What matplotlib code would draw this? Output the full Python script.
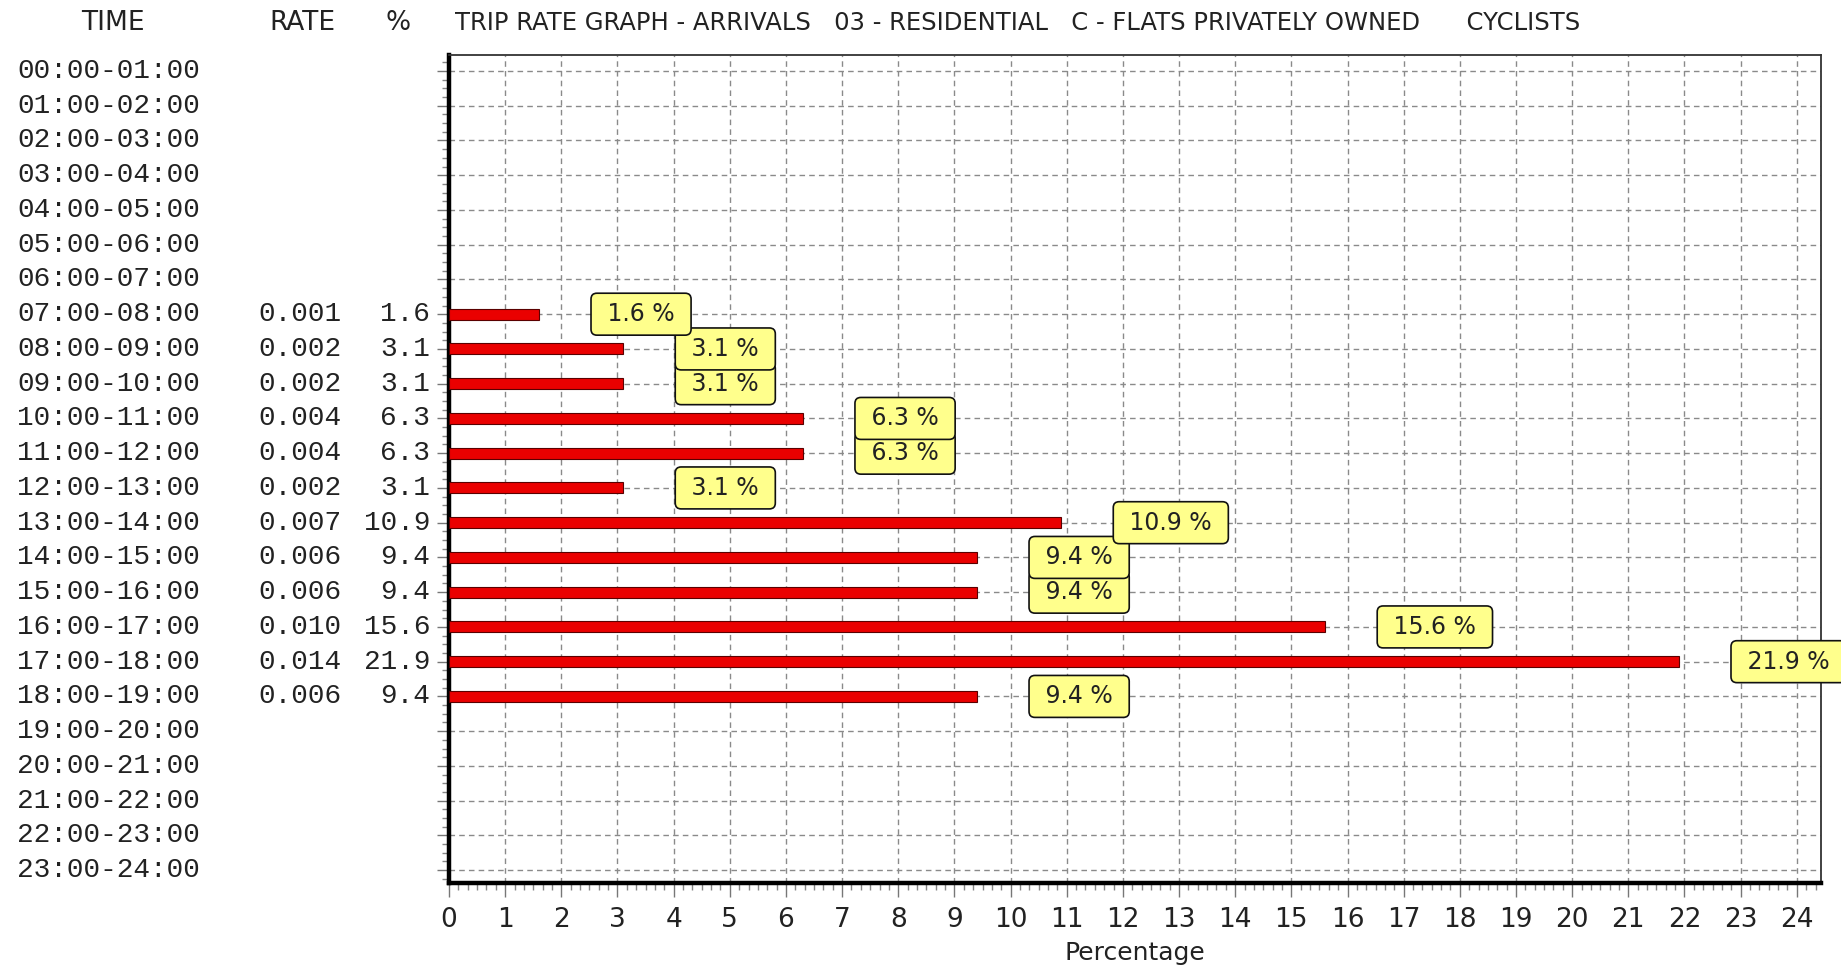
import matplotlib
matplotlib.use("Agg")
import matplotlib.pyplot as plt
import matplotlib.transforms as mtransforms
from matplotlib.ticker import MultipleLocator
import numpy as np

# trip rate table - arrivals, cyclists (flats privately owned)
times = ["00:00-01:00", "01:00-02:00", "02:00-03:00", "03:00-04:00",
         "04:00-05:00", "05:00-06:00", "06:00-07:00", "07:00-08:00",
         "08:00-09:00", "09:00-10:00", "10:00-11:00", "11:00-12:00",
         "12:00-13:00", "13:00-14:00", "14:00-15:00", "15:00-16:00",
         "16:00-17:00", "17:00-18:00", "18:00-19:00", "19:00-20:00",
         "20:00-21:00", "21:00-22:00", "22:00-23:00", "23:00-24:00"]
rate = [np.nan]*7 + [0.001, 0.002, 0.002, 0.004, 0.004, 0.002,
                     0.007, 0.006, 0.006, 0.010, 0.014, 0.006] + [np.nan]*5
pct = [np.nan]*7 + [1.6, 3.1, 3.1, 6.3, 6.3, 3.1,
                    10.9, 9.4, 9.4, 15.6, 21.9, 9.4] + [np.nan]*5
title = "TRIP RATE GRAPH - ARRIVALS   03 - RESIDENTIAL   C - FLATS PRIVATELY OWNED      CYCLISTS"

plt.rcParams['font.family'] = ['Liberation Sans Narrow', 'DejaVu Sans']
txtcol = '#222222'

fig = plt.figure(figsize=(18.41, 9.66), dpi=100)
ax = fig.add_axes([0.2439, 0.0859, 0.7452, 0.8572])
ax.set_xlim(0, 24.43)
ax.set_ylim(23.37, -0.46)

rows = np.arange(len(times))
pct_a = np.array(pct)
has = ~np.isnan(pct_a)
ax.barh(rows[has], pct_a[has], height=0.32, color='#ea0000',
        edgecolor='#5a0000', linewidth=0.8, zorder=3)

# grid + ticks
ax.set_xticks(range(25))
ax.set_yticks(rows)
ax.xaxis.set_minor_locator(MultipleLocator(1/6))
ax.yaxis.set_minor_locator(MultipleLocator(0.25))
ax.set_axisbelow(True)
ax.grid(True, which='major', color='#8a8a8a', linestyle=(0, (4, 3)), linewidth=1.0)
ax.tick_params(axis='x', which='major', length=10, width=1, color='#777777',
               pad=7, labelsize=19, labelcolor=txtcol)
ax.tick_params(axis='x', which='minor', length=5, width=1, color='#888888')
ax.tick_params(axis='y', which='major', length=9, width=1, color='#777777', labelleft=False)
ax.tick_params(axis='y', which='minor', length=5, width=1, color='#888888')
for s in ['left', 'bottom']:
    ax.spines[s].set_linewidth(3.2)
    ax.spines[s].set_color('black')
for s in ['top', 'right']:
    ax.spines[s].set_linewidth(1.3)
    ax.spines[s].set_color('#333333')
ax.set_xlabel('Percentage', fontsize=18, color=txtcol, labelpad=6)

# left hand table
mono = ['Liberation Mono', 'DejaVu Sans Mono']
trans = mtransforms.blended_transform_factory(fig.transFigure, ax.transData)
for i in rows:
    ax.text(17/1841, i, times[i], transform=trans, ha='left', va='center',
            family=mono, fontsize=20, color=txtcol, clip_on=False)
    if has[i]:
        ax.text(342/1841, i, "%.3f" % rate[i], transform=trans, ha='right',
                va='center', family=mono, fontsize=20, color=txtcol, clip_on=False)
        ax.text(430/1841, i, "%.1f" % pct[i], transform=trans, ha='right',
                va='center', family=mono, fontsize=20, color=txtcol, clip_on=False)
        ax.annotate(" %.1f %% " % pct[i], xy=(pct[i], i), xytext=(44, 0),
                    textcoords='offset points', ha='left', va='center',
                    fontsize=17, family='DejaVu Sans', color=txtcol,
                    bbox=dict(boxstyle='round,pad=0.38,rounding_size=0.25',
                              fc='#ffff8c', ec='#111111', lw=1.2),
                    annotation_clip=False, zorder=40 - i)

# header
hy = 1 - 23/966
fig.text(113/1841, hy, 'TIME', ha='center', va='center', fontsize=19, color=txtcol)
fig.text(302/1841, hy, 'RATE', ha='center', va='center', fontsize=19, color=txtcol)
fig.text(398/1841, hy, '%', ha='center', va='center', fontsize=19, color=txtcol)
t = fig.text(455/1841, hy, title, ha='left', va='center', fontsize=19, color=txtcol)
fig.canvas.draw()
w = t.get_window_extent().width
t.set_fontsize(19 * 1125 / w)

fig.savefig('out.png', dpi=100)
